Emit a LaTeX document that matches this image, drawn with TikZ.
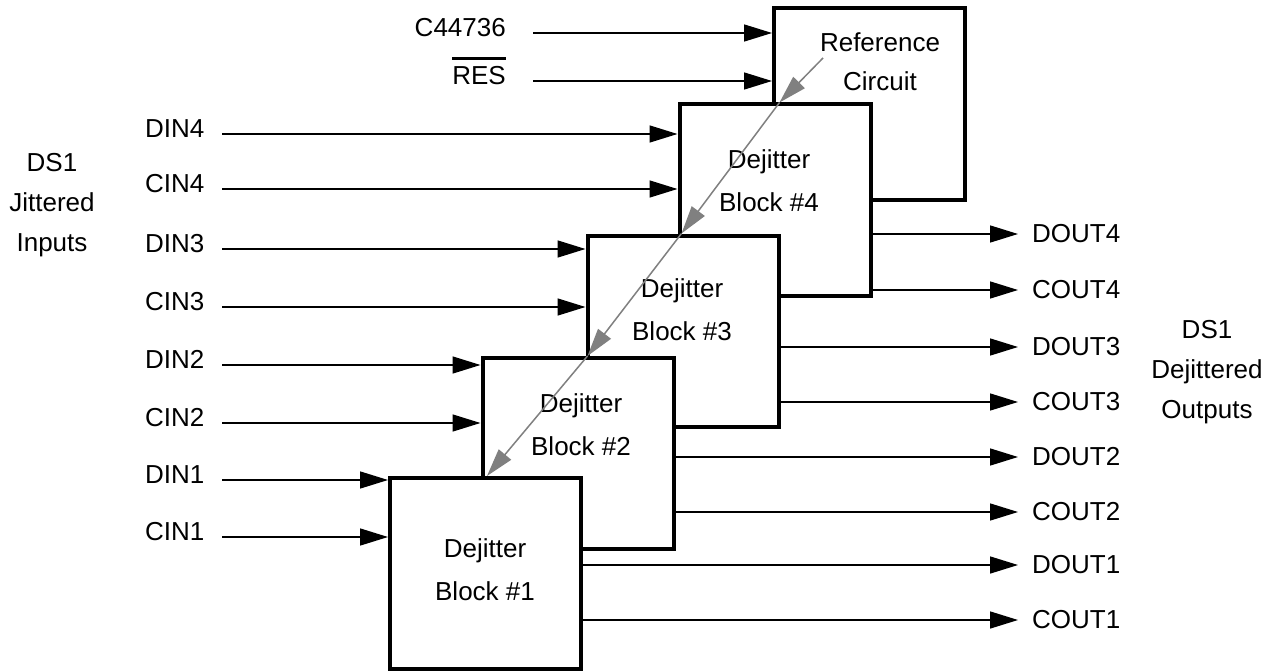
\documentclass[tikz,border=0pt]{standalone}
\usepackage{fontspec}
\setmainfont{Liberation Sans}
\usetikzlibrary{arrows.meta, calc}
\definecolor{flowgray}{RGB}{128, 128, 128}
\newcommand{\barRES}{\vbox{\hrule height 3.5pt\kern 6pt\hbox{RES}}}

\begin{document}
\begin{tikzpicture}[x=1pt, y=-1pt, font=\fontsize{26}{43}\selectfont,
    >={Triangle[length=28pt, width=17pt]},
    blk/.style={draw, line width=4pt, fill=white, minimum width=191pt,
                minimum height=191pt, inner sep=0pt},
    blktxt/.style={align=center, inner sep=0pt},
    insig/.style={inner sep=0pt, text height=21pt, text depth=14pt},
    outsig/.style={inner sep=0pt, anchor=west},
    wire/.style={->, line width=1.5pt},
    chain/.style={-{Triangle[length=28pt, width=16pt]}, line width=1.5pt, flowgray}]
  \useasboundingbox (0,0) rectangle (1273,671);

  \node[blk] (ref) at (869.5,104) {};
  \node[blktxt, font=\fontsize{26}{39}\selectfont] (reftxt) at (880,62) {Reference\\Circuit};
  \node[insig, anchor=east] (clk) at (506,33) {C44736};
  \node[insig, anchor=east] (res) at (506,81) {\barRES};
  \draw[wire] ([xshift=27pt]clk.east) -- (clk.east -| ref.west);
  \draw[wire] ([xshift=27pt]res.east) -- (res.east -| ref.west);

  \foreach \i/\cx/\cy/\tx/\ty in {4/775/200/769/181, 3/683/331/682/310,
                                 2/578/453.5/581/425, 1/485.5/573.5/485/570}{
    \node[blk] (b\i) at (\cx,\cy) {};
    \node[blktxt] (t\i) at (\tx,\ty) {Dejitter\\Block \#\i};
  }

  \foreach \i/\dy/\cy in {4/134/189, 3/249/307, 2/365/423, 1/480/537}{
    \node[insig, anchor=west] (din\i) at (145,\dy) {DIN\i};
    \node[insig, anchor=west] (cin\i) at (145,\cy) {CIN\i};
    \draw[wire] ([xshift=77pt]din\i.west) -- (din\i.west -| b\i.west);
    \draw[wire] ([xshift=77pt]cin\i.west) -- (cin\i.west -| b\i.west);
  }

  \foreach \i/\dy/\cy in {4/234/290, 3/347/402, 2/457/512, 1/565/620}{
    \node[outsig] (dout\i) at (1032,\dy) {DOUT\i};
    \node[outsig] (cout\i) at (1032,\cy) {COUT\i};
    \draw[wire] (dout\i.west -| b\i.east) -- ([xshift=-14pt]dout\i.west);
    \draw[wire] (cout\i.west -| b\i.east) -- ([xshift=-14pt]cout\i.west);
  }

  \coordinate (src) at (823,58);
  \coordinate (g4) at ([xshift=102pt]b4.north west);
  \coordinate (g3) at ([xshift=96pt]b3.north west);
  \coordinate (g2) at ([xshift=107pt]b2.north west);
  \coordinate (g1) at ([xshift=99pt]b1.north west);
  \foreach \a/\b in {src/g4, g4/g3, g3/g2, g2/g1}
    \draw[chain] (\a) -- (\b);

  \node[align=center, font=\fontsize{26}{40}\selectfont] (jin) at (52,205) {DS1\\Jittered\\Inputs};
  \node[align=center, font=\fontsize{26}{40}\selectfont] (djout) at (1207,372) {DS1\\Dejittered\\Outputs};
\end{tikzpicture}
\end{document}
